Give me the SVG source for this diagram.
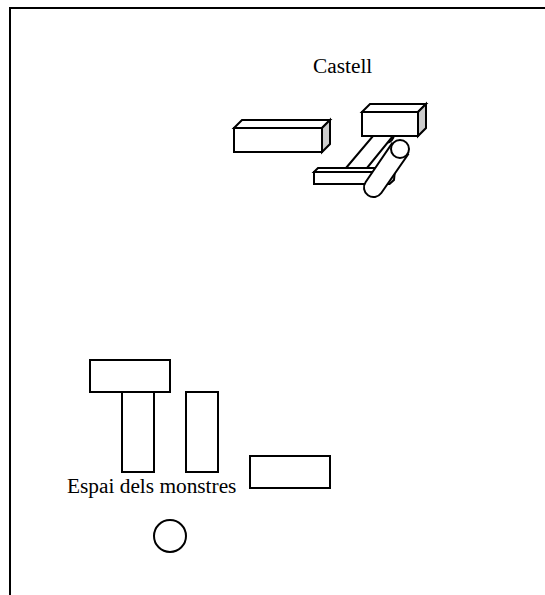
<svg xmlns="http://www.w3.org/2000/svg" width="545" height="595" viewBox="0 0 545 595">
<style>
.s{fill:#fff;stroke:#000;stroke-width:2;stroke-linejoin:miter}
.g{fill:#ccc;stroke:#000;stroke-width:2}
.t{font-family:"Liberation Serif","Times New Roman",serif;font-size:21.33px;fill:#000}
</style>
<rect width="545" height="595" fill="#fff"/>
<path id="frame" d="M10 595V8H545" fill="none" stroke="#000" stroke-width="2"/>
<text class="t" x="313" y="73">Castell</text>
<g id="block1">
<path class="s" d="M234 128L242 120H330L322 128Z"/>
<path class="g" d="M322 128L330 120V144L322 152Z"/>
<rect class="s" x="234" y="128" width="88" height="24"/>
</g>
<g id="castle-arm">
<path class="s" d="M378 134a8 9 0 0 0 16 0Z"/>
<path class="s" d="M380 172H390L387 184H380Z"/>
<path class="g" d="M390 170H395L394 180L389.500 184H387Z"/>
<path class="s" d="M346 168L373 136H393L367 168Z"/>
<path class="s" d="M314 172L318 168H380L376 172Z"/>
<rect class="s" x="314" y="172" width="64" height="12"/>
<path class="s" d="M392 143.500L408 154.500L381.300 193A9.500 9.500 0 0 1 365.700 182Z"/>
<circle class="s" cx="400" cy="149" r="9"/>
</g>
<g id="block2">
<path class="s" d="M362 112L370 104H426L418 112Z"/>
<path class="g" d="M418 112L426 104V128L418 136Z"/>
<rect class="s" x="362" y="112" width="56" height="24"/>
</g>
<g id="m1"><rect class="s" x="90" y="360" width="80" height="32"/></g>
<g id="m2"><rect class="s" x="122" y="392" width="32" height="80"/></g>
<g id="m3"><rect class="s" x="186" y="392" width="32" height="80"/></g>
<g id="m4"><rect class="s" x="250" y="456" width="80" height="32"/></g>
<g id="m5"><circle class="s" cx="170" cy="536" r="16"/></g>
<text class="t" x="67" y="493">Espai dels monstres</text>
</svg>
